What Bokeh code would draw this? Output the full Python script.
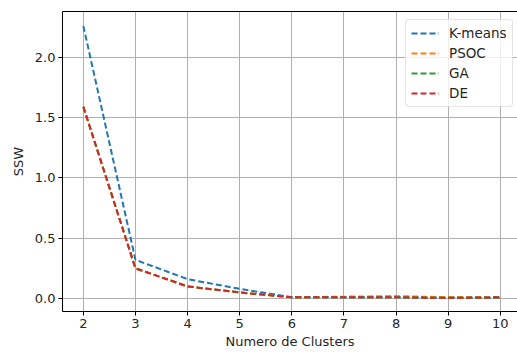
from bokeh.plotting import figure
from bokeh.models import FixedTicker, PrintfTickFormatter, Legend, LegendItem, LinearAxis
from bokeh.embed import file_html
from bokeh.resources import INLINE

clusters = [2, 3, 4, 5, 6, 7, 8, 9, 10]
kmeans = [2.26, 0.32, 0.16, 0.08, 0.01, 0.01, 0.01, 0.005, 0.005]
psoc = [1.59, 0.25, 0.10, 0.05, 0.01, 0.015, 0.02, 0.01, 0.01]
ga = [1.59, 0.25, 0.10, 0.05, 0.01, 0.01, 0.01, 0.005, 0.01]
de = [1.59, 0.25, 0.10, 0.05, 0.01, 0.01, 0.01, 0.005, 0.01]

series = [("K-means", kmeans, "#1f77b4"), ("PSOC", psoc, "#ff7f0e"),
          ("GA", ga, "#2ca02c"), ("DE", de, "#d62728")]

FONT = "DejaVu Sans"
FS = "13px"

p = figure(width=517, height=353, output_backend="svg", toolbar_location=None,
           x_range=(1.6, 10.33), y_range=(-0.108, 2.38),
           min_border_left=62, min_border_right=0, min_border_top=11, min_border_bottom=42)
p.outline_line_color = None
p.background_fill_color = "white"
p.border_fill_color = "white"

items = []
for name, vals, col in series:
    r = p.line(clusters, vals, line_color=col, line_width=2, line_dash="6 3")
    items.append(LegendItem(label=name, renderers=[r]))

for ax in (p.xaxis[0], p.yaxis[0]):
    ax.axis_line_color = "black"
    ax.major_tick_in = 0
    ax.major_tick_out = 4
    ax.minor_tick_line_color = None
    ax.major_label_text_font = FONT
    ax.major_label_text_font_size = FS
    ax.major_label_text_color = "#262626"
    ax.major_label_standoff = 3
    ax.axis_label_text_font = FONT
    ax.axis_label_text_font_size = FS
    ax.axis_label_text_font_style = "normal"
    ax.axis_label_text_color = "#262626"

p.xaxis.ticker = FixedTicker(ticks=clusters)
p.yaxis.ticker = FixedTicker(ticks=[0.0, 0.5, 1.0, 1.5, 2.0])
p.yaxis.formatter = PrintfTickFormatter(format="%.1f")
p.xaxis.axis_label = "Numero de Clusters"
p.yaxis.axis_label = "SSW"
p.xaxis.axis_label_standoff = 3
p.yaxis.axis_label_standoff = 6

top_axis = LinearAxis(ticker=FixedTicker(ticks=[]), axis_line_color="black",
                      major_tick_line_color=None, minor_tick_line_color=None,
                      major_label_text_font_size="0px")
p.add_layout(top_axis, "above")

p.grid.grid_line_color = "#b0b0b0"
p.grid.grid_line_width = 1

legend = Legend(items=items, location=(343, 204))
legend.label_text_font = FONT
legend.label_text_font_size = "13.5px"
legend.label_text_color = "#262626"
legend.border_line_color = "#cccccc"
legend.background_fill_alpha = 0.8
legend.glyph_width = 28
legend.glyph_height = 16
legend.label_height = 16
legend.spacing = 4
legend.padding = 5
legend.margin = 0
legend.label_standoff = 10
if "border_radius" in Legend.properties():
    legend.border_radius = 4
p.add_layout(legend)

open("out.html", "w").write(file_html(p, INLINE))
